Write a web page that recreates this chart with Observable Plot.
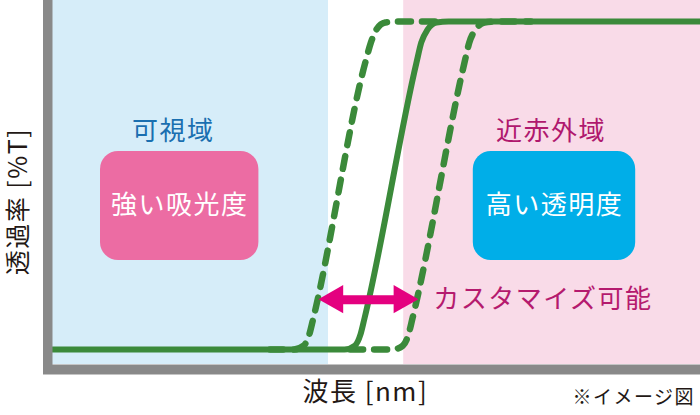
<!DOCTYPE html>
<html><head><meta charset="utf-8">
<script src="https://cdn.jsdelivr.net/npm/d3@7"></script>
<script src="https://cdn.jsdelivr.net/npm/@observablehq/plot@0.6"></script>
<style>
body{margin:0;background:#fff;}
#chart svg{display:block;}
#chart svg text{letter-spacing:1.5px;}
</style>
</head><body><div id="chart"></div>
<script>
// wavelength (nm) / transmittance (%T) — conceptual image
const solidNm = [350, 715, 728, 735, 740, 805, 811, 819, 830, 845, 1160];
const solidT  = [0, 0, 1.2, 4.6, 9.5, 87.5, 93.6, 97.6, 99.7, 100, 100];
const leftNm  = [622, 651, 664, 671, 676, 741, 748, 755, 766, 781, 835];
const leftT   = [0, 0, 1.2, 4.6, 9.5, 87.5, 93.6, 97.6, 99.7, 100, 100];
const rightNm = [722, 775, 788, 795, 800, 865, 871, 879, 890, 905, 948];
const rightT  = [0, 0, 1.2, 4.6, 9.5, 87.5, 93.6, 97.6, 99.7, 100, 100];

const bandNames = ["可視域", "近赤外域"];
const bandStart = [350, 789];
const bandEnd   = [695, 1160];
const bandLabelNm = [501, 973];
const bandLabelT = 66.3;

const boxLabels = ["強い吸光度", "高い透明度"];
const boxStart = [410, 876];
const boxEnd   = [608, 1079];
const boxLow = 27.1, boxHigh = 60.4;

const arrowStart = 683, arrowEnd = 808, arrowT = 15.2;
const arrowHeadLen = 31, arrowHeadHalf = 4.3;
const customLabel = "カスタマイズ可能";
const customLabelNm = 826;

const xLabel = "波長 [nm]";
const xLabelNm = 741;
const yLabel = "透過率 [%T]";
const yLabelNm = 308, yLabelT = 45.1;
const note = "※イメージ図";

const toPts = (xs, ys) => xs.map((x, i) => ({x, y: ys[i]}));
const solid = toPts(solidNm, solidT);
const left = toPts(leftNm, leftT);
const right = toPts(rightNm, rightT);
const bands = bandNames.map((n, i) => ({name: n, x1: bandStart[i], x2: bandEnd[i], lx: bandLabelNm[i]}));
const boxes = boxLabels.map((n, i) => ({name: n, x1: boxStart[i], x2: boxEnd[i], cx: (boxStart[i] + boxEnd[i]) / 2}));
const headL = [{x: arrowStart, y1: arrowT, y2: arrowT}, {x: arrowStart + arrowHeadLen, y1: arrowT - arrowHeadHalf, y2: arrowT + arrowHeadHalf}];
const headR = [{x: arrowEnd - arrowHeadLen, y1: arrowT - arrowHeadHalf, y2: arrowT + arrowHeadHalf}, {x: arrowEnd, y1: arrowT, y2: arrowT}];
const shaft = [{x: arrowStart + arrowHeadLen - 2, y: arrowT}, {x: arrowEnd - arrowHeadLen + 2, y: arrowT}];

const FONT = "'Noto Sans CJK JP', 'Noto Sans', sans-serif";
const GREEN = "#3b8a3a";
const bandFill = ["#d6edf9", "#f9dbe8"];
const bandText = ["#1a6fb0", "#b0186e"];
const boxFill = ["#ec6ca3", "#00aee8"];

const chart = Plot.plot({
  width: 700, height: 415,
  marginLeft: 52, marginRight: 0, marginTop: 0, marginBottom: 51,
  x: {domain: [350, 1160], axis: null},
  y: {domain: [-4.57, 106.4], axis: null},
  style: {fontFamily: FONT, background: "#fff"},
  marks: [
    Plot.rect(bands, {x1: "x1", x2: "x2", fill: d => bandFill[bandNames.indexOf(d.name)]}),
    Plot.rect(boxes, {x1: "x1", x2: "x2", y1: boxLow, y2: boxHigh, rx: 18, fill: d => boxFill[boxLabels.indexOf(d.name)]}),
    Plot.text(boxes, {x: "cx", y: (boxLow + boxHigh) / 2, text: "name", fill: "#fff", fontSize: 26, fontFamily: FONT}),
    Plot.text(bands, {x: "lx", y: bandLabelT, text: "name", fill: d => bandText[bandNames.indexOf(d.name)], fontSize: 26, fontFamily: FONT}),
    Plot.line(left, {x: "x", y: "y", curve: "monotone-x", stroke: GREEN, strokeWidth: 6.5, strokeDasharray: "13,11"}),
    Plot.line(right, {x: "x", y: "y", curve: "monotone-x", stroke: GREEN, strokeWidth: 6.5, strokeDasharray: "13,11"}),
    Plot.line(solid, {x: "x", y: "y", curve: "monotone-x", stroke: GREEN, strokeWidth: 6}),
    Plot.line(shaft, {x: "x", y: "y", stroke: "#e4007f", strokeWidth: 9}),
    Plot.areaY(headL, {x: "x", y1: "y1", y2: "y2", fill: "#e4007f"}),
    Plot.areaY(headR, {x: "x", y1: "y1", y2: "y2", fill: "#e4007f"}),
    Plot.text([customLabel], {x: customLabelNm, y: arrowT, text: d => d, textAnchor: "start", fill: "#b51a6e", fontSize: 26, fontFamily: FONT}),
    Plot.ruleX([350], {stroke: "#898989", strokeWidth: 9.5, dx: -4.75, insetBottom: -10}),
    Plot.ruleY([-4.57], {stroke: "#898989", strokeWidth: 10, dy: 5, insetLeft: -9}),
    Plot.text([yLabel], {x: yLabelNm, y: yLabelT, rotate: -90, text: d => d, fill: "#231815", fontSize: 25, fontFamily: FONT}),
    Plot.text([xLabel], {x: xLabelNm, frameAnchor: "bottom", dy: 36, text: d => d, fill: "#231815", fontSize: 26, fontFamily: FONT}),
    Plot.text([note], {frameAnchor: "bottom-right", dx: -5.5, dy: 39, textAnchor: "end", text: d => d, fill: "#231815", fontSize: 19, fontFamily: FONT})
  ]
});
document.getElementById("chart").appendChild(chart);
</script>
</body></html>
